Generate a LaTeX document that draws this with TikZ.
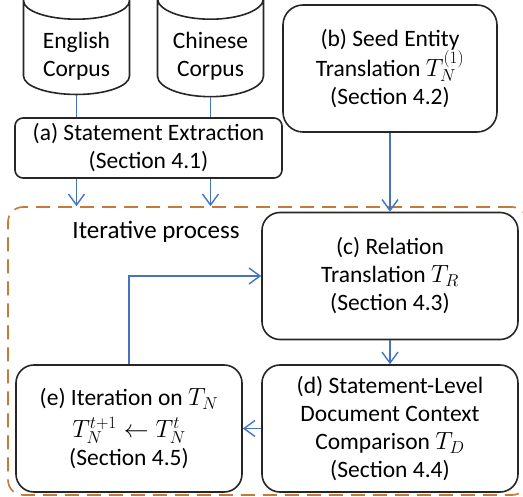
\documentclass[tikz,border=0pt]{standalone}
\usepackage{fontspec}
\setmainfont{Carlito}
\usetikzlibrary{shapes.geometric, arrows.meta}

\definecolor{wireblue}{RGB}{68,114,196}
\definecolor{framebrown}{RGB}{196,122,58}

\newcommand{\cyltext}[1]{\raisebox{-9pt}[\height][\depth]{\begin{tabular}{@{}c@{}}#1\end{tabular}}}

\tikzset{
	box/.style = {draw = black!85, line width = 1.6pt, align = center,
		font = \fontsize{23.5}{28}\selectfont},
	corpus/.style = {box, cylinder, shape border rotate = 90, aspect = 0.55,
		minimum width = 106pt, minimum height = 88pt, inner sep = 0pt},
	wire/.style = {draw = wireblue, line width = 1.4pt},
	>={Straight Barb[length = 11pt, width = 16pt]}
}

\begin{document}
\begin{tikzpicture}[x = 1pt, y = 1pt, yscale = -1]
	\useasboundingbox (0, 0) rectangle (523, 497);

	% Iterativer Bereich:
	\node [draw = framebrown, line width = 1.6pt, dash pattern = on 14pt off 8pt,
		rounded corners = 15pt, minimum width = 519pt, minimum height = 288pt]
		(frame) at (267.5, 351) {};
	\node [font = \fontsize{25}{28}\selectfont] (itlabel) at (156, 232) {Iterative process};

	% Korpora:
	\node [corpus] (eng) at (76.5, 48) {\cyltext{English\\Corpus}};
	\node [corpus] (chn) at (210.5, 48) {\cyltext{Chinese\\Corpus}};

	% Kaesten:
	\node [box, rounded corners = 8pt, minimum width = 267pt, minimum height = 60pt]
		(stmt) at (148.5, 148) {(a) Statement Extraction\\(Section 4.1)};
	\node [box, rounded corners = 20pt, minimum width = 214pt, minimum height = 127pt]
		(seed) at (390, 68.5) {(b) Seed Entity\\Translation $T_N^{(1)}$\\(Section 4.2)};
	\begin{scope}[every node/.style = {box, rounded corners = 18pt, minimum height = 127pt}]
		\node [minimum width = 256pt] (reltr) at (390, 276) {(c) Relation\\Translation $T_R$\\(Section 4.3)};
		\node [minimum width = 256pt] (cmp) at (390, 428.5) {(d) Statement-Level\\Document Context\\Comparison $T_D$\\(Section 4.4)};
		\node [minimum width = 226pt] (iter) at (129, 428.5) {(e) Iteration on $T_N$\\[4pt]$T_N^{t+1}\leftarrow T_N^{t}$\\(Section 4.5)};
	\end{scope}

	% Verbindungen:
	\begin{scope}[wire]
		\draw (eng.south) -- (eng.south |- stmt.north);
		\draw (chn.south) -- (chn.south |- stmt.north);
		\draw [->] (eng.south |- stmt.south) -- (eng.south |- frame.north);
		\draw [->] (chn.south |- stmt.south) -- (chn.south |- frame.north);
		\draw [->] (seed) -- (reltr);
		\draw [->] (reltr) -- (cmp);
		\draw [->] (cmp) -- (iter);
		\draw [->] (iter.north) |- (reltr.west);
	\end{scope}
\end{tikzpicture}
\end{document}
